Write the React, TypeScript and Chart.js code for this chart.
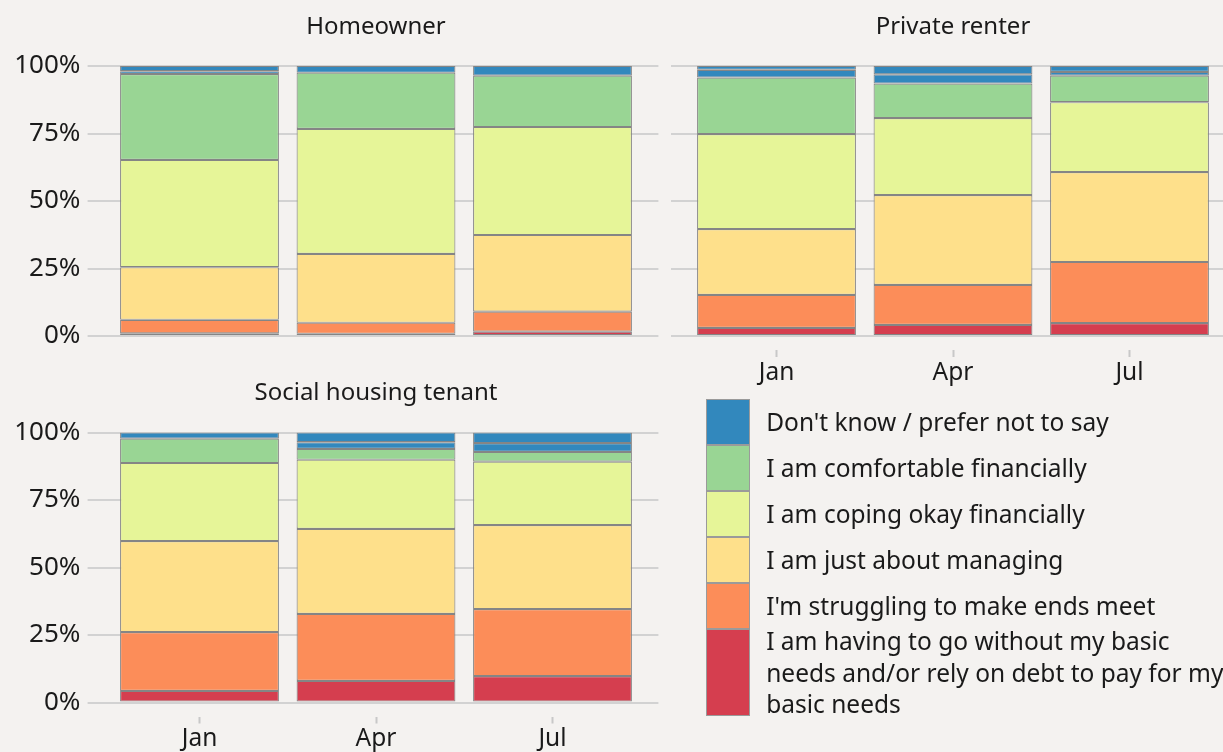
import React, { useEffect, useRef } from 'react';
import { Chart, registerables } from 'chart.js';

Chart.register(...registerables);

// ---- data ----
const months = ['Jan', 'Apr', 'Jul'];
const panelTitles = ['Homeowner', 'Private renter', 'Social housing tenant'];

// Percent shares; each row = one panel (Homeowner, Private renter, Social housing tenant), columns = Jan, Apr, Jul
const goingWithout = [[1.0, 0.8, 1.6], [3.0, 4.1, 4.8], [4.3, 8.0, 9.8]];
const struggling = [[5.0, 4.1, 7.4], [12.2, 14.8, 22.6], [21.8, 24.8, 24.8]];
const justAbout = [[19.5, 25.5, 28.4], [24.4, 33.3, 33.3], [33.7, 31.5, 31.1]];
const copingOkay = [[39.7, 46.3, 40.0], [35.2, 28.5, 25.9], [28.9, 25.6, 23.5]];
const comfortable = [[31.8, 20.8, 19.0], [20.9, 12.8, 9.8], [9.0, 4.0, 3.6]];
const dontKnow = [[1.1, 2.5, 3.6], [2.9, 3.4, 1.4], [2.3, 2.5, 3.3]];
const preferNotToSay = [[1.9, 0, 0], [1.4, 3.1, 2.2], [0, 3.6, 3.9]];

const yTicks = [0, 25, 50, 75, 100];

const seriesStack = [goingWithout, struggling, justAbout, copingOkay, comfortable, dontKnow, preferNotToSay];
const seriesNames = [
  'I am having to go without my basic needs and/or rely on debt to pay for my basic needs',
  "I'm struggling to make ends meet",
  'I am just about managing',
  'I am coping okay financially',
  'I am comfortable financially',
  "Don't know",
  'Prefer not to say',
];
const seriesColors = ['#d53e4f', '#fc8d59', '#fee08b', '#e6f598', '#99d594', '#3288bd', '#3288bd'];

const legendLabels = [
  "Don't know / prefer not to say",
  'I am comfortable financially',
  'I am coping okay financially',
  'I am just about managing',
  "I'm struggling to make ends meet",
  'I am having to go without my basic\nneeds and/or rely on debt to pay for my\nbasic needs',
];
const legendColors = ['#3288bd', '#99d594', '#e6f598', '#fee08b', '#fc8d59', '#d53e4f'];

// ---- styling ----
const BG = '#f4f2f0';
const TEXT = '#1a1a1a';
const GRID = '#d2d2d2';
const EDGE = '#858585';
const FONT = '"Noto Sans", sans-serif';

type PanelLayout = {
  left: number; top: number; w: number; h: number;
  yWidth: number; padL: number; padR: number; padB: number;
  titleTop: number; titleBottom: number;
  showX: boolean; xHeight: number; showY: boolean;
};

const layouts: PanelLayout[] = [
  { left: 0, top: 0, w: 670, h: 360, yWidth: 93.6, padL: 0, padR: 11.6, padB: 24, titleTop: 12.6, titleBottom: 24.6, showX: false, xHeight: 0, showY: true },
  { left: 658, top: 0, w: 600, h: 400, yWidth: 0, padL: 12.6, padR: 22.6, padB: 0, titleTop: 12.6, titleBottom: 24.6, showX: true, xHeight: 64, showY: false },
  { left: 0, top: 366, w: 670, h: 400, yWidth: 93.6, padL: 0, padR: 11.6, padB: 0, titleTop: 13.1, titleBottom: 24.6, showX: true, xHeight: 63.5, showY: true },
];

function Panel({ index }: { index: number }) {
  const ref = useRef<HTMLCanvasElement | null>(null);
  const L = layouts[index];
  useEffect(() => {
    if (!ref.current) return;
    const datasets = seriesStack.map((s, k) => ({
      label: seriesNames[k],
      data: s[index].map((v, i) => ({ x: i + 1, y: v })),
      backgroundColor: seriesColors[k],
      borderColor: EDGE,
      borderWidth: 1.1,
      borderSkipped: false as const,
      barPercentage: 0.9,
      categoryPercentage: 1,
    }));
    const chart = new Chart(ref.current, {
      type: 'bar',
      data: { datasets },
      options: {
        animation: false,
        responsive: false,
        devicePixelRatio: 1,
        layout: { padding: { left: L.padL, right: L.padR, bottom: L.padB, top: 0 } },
        plugins: {
          legend: { display: false },
          tooltip: { enabled: false },
          title: {
            display: true,
            text: panelTitles[index],
            fullSize: false,
            color: TEXT,
            font: { family: FONT, size: 24, weight: 'normal', lineHeight: 1.2 },
            padding: { top: L.titleTop, bottom: L.titleBottom },
          },
        },
        scales: {
          x: {
            type: 'linear',
            stacked: true,
            offset: false,
            min: 0.4,
            max: 3.6,
            display: L.showX,
            border: { display: false },
            grid: {
              display: true,
              offset: false,
              drawOnChartArea: false,
              drawTicks: true,
              tickLength: 21,
              tickColor: '#c8c8c8',
              tickWidth: 2,
              tickBorderDash: [0, 14, 7, 100],
            },
            afterBuildTicks: (s: any) => {
              s.ticks = months.map((_, i) => ({ value: i + 1 }));
            },
            afterFit: (s: any) => {
              s.height = L.xHeight;
            },
            ticks: {
              autoSkip: false,
              maxRotation: 0,
              padding: 1,
              color: TEXT,
              font: { family: FONT, size: 24.5 },
              callback: (v: any) => months[Math.round(Number(v)) - 1] ?? '',
            },
          },
          y: {
            stacked: true,
            min: 0,
            max: 100,
            border: { display: false },
            grid: { color: GRID, lineWidth: 2, drawTicks: L.showY, tickLength: 6 },
            afterBuildTicks: (s: any) => {
              s.ticks = yTicks.map((v) => ({ value: v }));
            },
            afterFit: (s: any) => {
              s.width = L.yWidth;
            },
            ticks: {
              display: L.showY,
              padding: 7.2,
              color: TEXT,
              font: { family: FONT, size: 26 },
              callback: (v: any) => `${v}%`,
            },
          },
        },
      },
    } as any);
    return () => chart.destroy();
  }, [index]);
  return (
    <canvas
      ref={ref}
      width={L.w}
      height={L.h}
      style={{ position: 'absolute', left: L.left, top: L.top, width: L.w, height: L.h }}
    />
  );
}

function Legend() {
  const heights = [46, 46, 46, 46, 46, 87];
  return (
    <div style={{ position: 'absolute', left: 705.7, top: 399, fontFamily: FONT, fontSize: 24.5, color: TEXT }}>
      {legendLabels.map((lab, i) => (
        <div key={i} style={{ display: 'flex', alignItems: 'center', height: heights[i] }}>
          <div
            style={{
              width: 44.5,
              height: heights[i],
              boxSizing: 'border-box',
              background: legendColors[i],
              border: '1.5px solid #9a9a9a',
              flex: 'none',
            }}
          />
          <div style={{ marginLeft: 16, whiteSpace: 'pre', lineHeight: '31.5px' }}>{lab}</div>
        </div>
      ))}
    </div>
  );
}

export default function App() {
  return (
    <div
      style={{
        position: 'fixed',
        left: 0,
        top: 0,
        width: 1223,
        height: 752,
        overflow: 'hidden',
        background: BG,
      }}
    >
      <Panel index={0} />
      <Panel index={1} />
      <Panel index={2} />
      <Legend />
    </div>
  );
}
